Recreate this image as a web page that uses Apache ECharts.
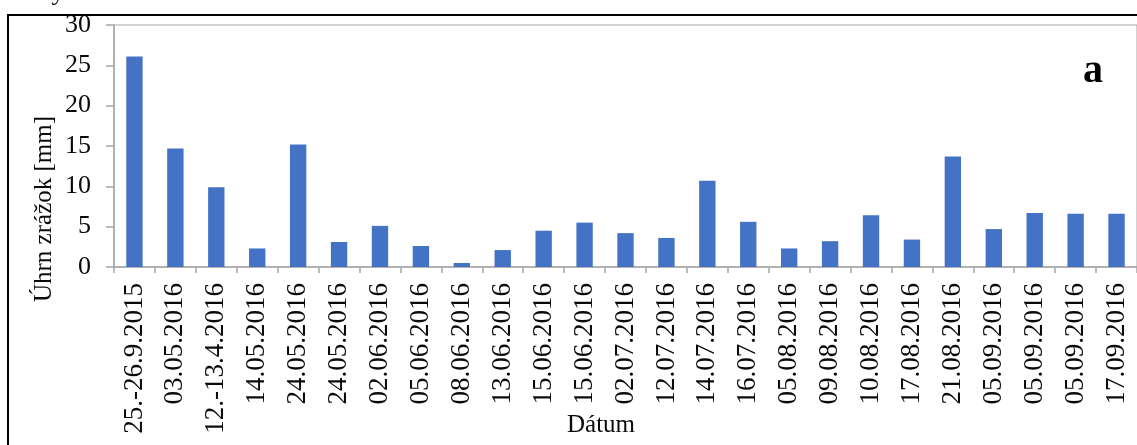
<!DOCTYPE html>
<html>
<head>
<meta charset="utf-8">
<script src="https://cdn.jsdelivr.net/npm/echarts@6/dist/echarts.min.js"></script>
<style>
  html, body { margin: 0; padding: 0; background: #ffffff; }
  #chart { width: 1137px; height: 445px; }
</style>
</head>
<body>
<div id="chart"></div>
<script>
// Precipitation totals per rain event
const categories = [
  '25.-26.9.2015', '03.05.2016', '12.-13.4.2016', '14.05.2016', '24.05.2016',
  '24.05.2016', '02.06.2016', '05.06.2016', '08.06.2016', '13.06.2016',
  '15.06.2016', '15.06.2016', '02.07.2016', '12.07.2016', '14.07.2016',
  '16.07.2016', '05.08.2016', '09.08.2016', '10.08.2016', '17.08.2016',
  '21.08.2016', '05.09.2016', '05.09.2016', '05.09.2016', '17.09.2016'
];
const rainfall = [
  26.1, 14.7, 9.9, 2.3, 15.2,
  3.1, 5.1, 2.6, 0.5, 2.1,
  4.5, 5.5, 4.2, 3.6, 10.7,
  5.6, 2.3, 3.2, 6.4, 3.4,
  13.7, 4.7, 6.7, 6.6, 6.6
];
const yMin = 0;
const yMax = 30;
const yStep = 5;

const serif = '"Liberation Serif", "Times New Roman", serif';
const axisGray = '#a6a6a6';
const ink = '#0a0a0a';

const chart = echarts.init(document.getElementById('chart'), null, { renderer: 'canvas' });

chart.setOption({
  backgroundColor: '#ffffff',
  animation: false,
  grid: {
    left: 114,
    top: 25,
    width: 1025,
    height: 242,
    show: true,
    borderColor: axisGray,
    borderWidth: 1,
    backgroundColor: 'transparent'
  },
  xAxis: {
    type: 'category',
    data: categories,
    boundaryGap: true,
    axisLine: { lineStyle: { color: axisGray, width: 1.5 } },
    axisTick: { show: true, alignWithLabel: false, length: 6, lineStyle: { color: axisGray, width: 1.5 } },
    axisLabel: {
      interval: 0,
      rotate: 90,
      margin: 16,
      color: ink,
      fontFamily: serif,
      fontSize: 27
    },
    splitLine: { show: false }
  },
  yAxis: {
    type: 'value',
    min: yMin,
    max: yMax,
    interval: yStep,
    axisLine: { show: true, lineStyle: { color: axisGray, width: 1.5 } },
    axisTick: { show: true, length: 8, lineStyle: { color: axisGray, width: 1.5 } },
    axisLabel: {
      margin: 23,
      color: ink,
      fontFamily: serif,
      fontSize: 26
    },
    splitLine: { show: false }
  },
  series: [{
    type: 'bar',
    data: rainfall,
    barWidth: '40%',
    itemStyle: { color: '#4472c4' }
  }],
  graphic: [
    {
      type: 'rect',
      silent: true,
      shape: { x: 8, y: 15, width: 1200, height: 500 },
      style: { fill: 'none', stroke: '#000000', lineWidth: 2 }
    },
    {
      type: 'text',
      silent: true,
      x: 58, y: 6,
      style: { text: 'y', font: '26px ' + serif, fill: ink, align: 'center', verticalAlign: 'bottom' }
    },
    {
      type: 'text',
      silent: true,
      x: 44, y: 209,
      rotation: Math.PI / 2,
      style: { text: 'Úhrn zrážok [mm]', font: '25px ' + serif, fill: ink, align: 'center', verticalAlign: 'middle' }
    },
    {
      type: 'text',
      silent: true,
      x: 601, y: 425,
      style: { text: 'Dátum', font: '25px ' + serif, fill: ink, align: 'center', verticalAlign: 'middle' }
    },
    {
      type: 'text',
      silent: true,
      x: 1093, y: 72,
      style: { text: 'a', font: 'bold 40px ' + serif, fill: '#000000', align: 'center', verticalAlign: 'middle' }
    }
  ]
});
</script>
</body>
</html>
